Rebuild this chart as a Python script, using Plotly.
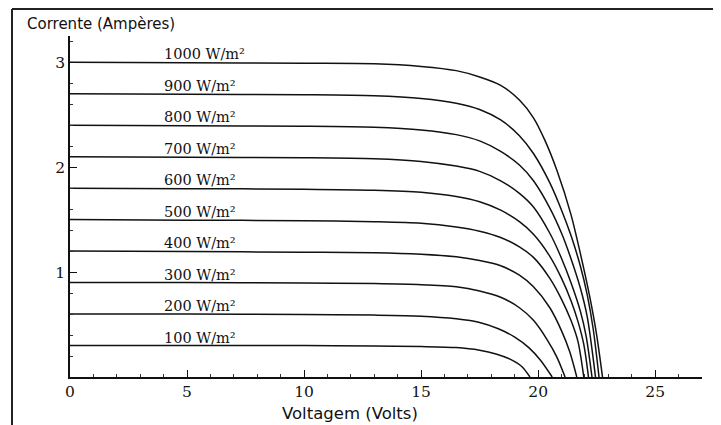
import plotly.graph_objects as go

# Irradiance labels
irradiance_labels = ["1000 W/m²", "900 W/m²", "800 W/m²", "700 W/m²", "600 W/m²",
                     "500 W/m²", "400 W/m²", "300 W/m²", "200 W/m²", "100 W/m²"]

# Voltage (V) and current (A) points, one pair per curve
v_1000 = [0, 5, 10, 13, 15, 16.5, 17.5, 18.4, 19.2, 19.8, 20.3, 20.8, 21.4, 21.8, 22.2, 22.5, 22.75]
i_1000 = [3.00, 2.995, 2.99, 2.985, 2.96, 2.92, 2.86, 2.78, 2.64, 2.47, 2.25, 1.97, 1.55, 1.18, 0.77, 0.40, 0]

v_900 = [0, 5, 10, 13, 15, 16.5, 17.5, 18.4, 19.2, 19.8, 20.5, 21, 21.4, 21.8, 22.1, 22.35, 22.6]
i_900 = [2.70, 2.695, 2.69, 2.68, 2.655, 2.61, 2.55, 2.45, 2.30, 2.13, 1.85, 1.59, 1.35, 1.06, 0.78, 0.46, 0]

v_800 = [0, 5, 10, 13, 15, 16.5, 17.5, 18.4, 19.2, 19.8, 20.5, 21, 21.4, 21.8, 22.1, 22.45]
i_800 = [2.40, 2.395, 2.39, 2.38, 2.355, 2.31, 2.25, 2.15, 2.02, 1.87, 1.61, 1.37, 1.13, 0.85, 0.57, 0]

v_700 = [0, 5, 10, 13, 15, 16.5, 17.5, 18.4, 19.2, 19.8, 20.5, 21, 21.4, 21.8, 22.05, 22.3]
i_700 = [2.10, 2.095, 2.09, 2.08, 2.055, 2.01, 1.96, 1.87, 1.75, 1.62, 1.37, 1.13, 0.90, 0.63, 0.39, 0]

v_600 = [0, 5, 10, 13, 15, 16.5, 17.5, 18.4, 19.2, 19.8, 20.5, 21, 21.4, 21.7, 21.95, 22.15]
i_600 = [1.80, 1.795, 1.79, 1.78, 1.76, 1.72, 1.67, 1.59, 1.48, 1.36, 1.15, 0.94, 0.73, 0.53, 0.31, 0]

v_500 = [0, 5, 10, 13, 15, 16.5, 17.5, 18.4, 19.2, 19.8, 20.5, 21, 21.4, 21.7, 21.95]
i_500 = [1.50, 1.495, 1.49, 1.48, 1.465, 1.43, 1.39, 1.33, 1.24, 1.14, 0.94, 0.74, 0.54, 0.34, 0]

v_400 = [0, 5, 10, 13, 15, 16.5, 17.5, 18.4, 19.2, 19.8, 20.5, 21, 21.35, 21.65]
i_400 = [1.20, 1.195, 1.19, 1.185, 1.17, 1.145, 1.11, 1.06, 0.97, 0.86, 0.66, 0.44, 0.24, 0]

v_300 = [0, 5, 10, 13, 15, 16.5, 17.5, 18.4, 19.2, 19.8, 20.4, 20.8, 21.15]
i_300 = [0.90, 0.90, 0.895, 0.89, 0.88, 0.86, 0.82, 0.76, 0.66, 0.54, 0.35, 0.19, 0]

v_200 = [0, 5, 10, 13, 15, 16.5, 17.5, 18.3, 19, 19.6, 20.1, 20.6]
i_200 = [0.60, 0.60, 0.595, 0.59, 0.58, 0.555, 0.52, 0.46, 0.38, 0.28, 0.16, 0]

v_100 = [0, 5, 10, 13, 15, 16.5, 17.5, 18.2, 18.8, 19.3, 19.65]
i_100 = [0.30, 0.30, 0.30, 0.295, 0.29, 0.28, 0.255, 0.22, 0.17, 0.10, 0]

curves = [(v_1000, i_1000), (v_900, i_900), (v_800, i_800), (v_700, i_700), (v_600, i_600),
          (v_500, i_500), (v_400, i_400), (v_300, i_300), (v_200, i_200), (v_100, i_100)]

x_ticks = [0, 5, 10, 15, 20, 25]
y_ticks = [1, 2, 3]
label_x = 3.93

fig = go.Figure()
for (v, i), name in zip(curves, irradiance_labels):
    fig.add_trace(go.Scatter(x=v, y=i, mode="lines", name=name,
                             line=dict(color="#111111", width=1.5, shape="spline", smoothing=0.8),
                             showlegend=False, hoverinfo="skip"))
    fig.add_annotation(x=label_x, y=i[0], text=name, showarrow=False,
                       xanchor="left", yanchor="bottom", yshift=-2,
                       font=dict(family="DejaVu Serif", size=14.5, color="#111111"))

serif = dict(family="DejaVu Serif", size=15.5, color="#111111")

fig.update_xaxes(range=[0, 27], tickvals=x_ticks, ticktext=[str(t) for t in x_ticks],
                 ticks="inside", ticklen=7, tickwidth=1.2, tickcolor="#111111",
                 showline=True, linecolor="#111111", linewidth=1.6,
                 showgrid=False, zeroline=False, tickfont=serif,
                 minor=dict(dtick=1, ticks="inside", ticklen=3, tickcolor="#333333", showgrid=False))
fig.update_yaxes(range=[0, 3.25], tickvals=y_ticks, ticktext=[str(t) for t in y_ticks],
                 ticks="inside", ticklen=7, tickwidth=1.2, tickcolor="#111111",
                 showline=True, linecolor="#111111", linewidth=1.6,
                 showgrid=False, zeroline=False, tickfont=serif,
                 minor=dict(dtick=0.2, ticks="inside", ticklen=3, tickcolor="#333333", showgrid=False))

# The page body adds an 8px offset, so the figure is 8px smaller than the window
OFF = 8
W, H = 721 - OFF, 425 - OFF
ml, mr, mt, mb = 70 - OFF, 19, 36 - OFF, 48
fig.update_layout(width=W, height=H, margin=dict(l=ml, r=mr, t=mt, b=mb),
                  paper_bgcolor="white", plot_bgcolor="white")

pw, ph = W - ml - mr, H - mt - mb
def px(x):
    return (x - OFF - ml) / pw
def py(y):
    return (H - mb - (y - OFF)) / ph

fig.add_shape(type="line", xref="paper", yref="paper", x0=px(12), x1=px(721), y0=py(9), y1=py(9),
              line=dict(color="#222222", width=2))
fig.add_shape(type="line", xref="paper", yref="paper", x0=px(12), x1=px(12), y0=py(9), y1=py(425),
              line=dict(color="#222222", width=2))

fig.add_annotation(xref="paper", yref="paper", x=px(25), y=py(24), text="Corrente (Ampères)",
                   showarrow=False, xanchor="left", yanchor="middle",
                   font=dict(family="DejaVu Sans", size=15, color="#111111"))
fig.add_annotation(xref="paper", yref="paper", x=px(350), y=py(414), text="Voltagem (Volts)",
                   showarrow=False, xanchor="center", yanchor="middle",
                   font=dict(family="DejaVu Sans", size=16.5, color="#111111"))

fig.write_html("out.html")
